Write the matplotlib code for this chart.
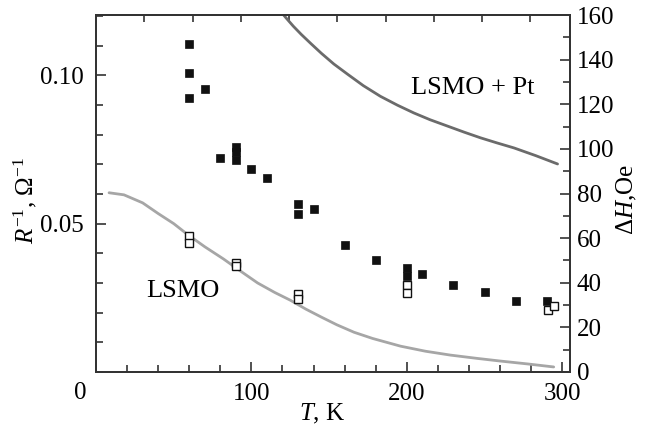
import numpy as np
import matplotlib
matplotlib.use("Agg")
import matplotlib.pyplot as plt
from matplotlib.ticker import MultipleLocator, FixedLocator, NullFormatter, FuncFormatter

plt.rcParams['font.family'] = ['Liberation Serif', 'DejaVu Serif']
plt.rcParams['mathtext.fontset'] = 'custom'
plt.rcParams['mathtext.rm'] = 'Liberation Serif'
plt.rcParams['mathtext.it'] = 'Liberation Serif:italic'

# LSMO + Pt curve (left axis, R^-1)
pt_T = [118, 122, 127, 132, 138, 145, 153, 162, 172, 183, 194, 204.5, 215, 226, 237,
        247.5, 258, 269, 283, 297]
pt_R = [0.1220, 0.1195, 0.1165, 0.1138, 0.1108, 0.1074, 0.1038, 0.1003, 0.0965, 0.0929,
        0.0899, 0.0873, 0.0850, 0.0829, 0.0808, 0.0789, 0.0772, 0.0755, 0.0729, 0.0701]

# LSMO curve (left axis, R^-1)
ls_T = [8.4, 18, 30, 40, 50, 59, 70, 82, 93, 104, 115, 125, 135, 145, 155, 166, 178, 196,
        212, 228, 245, 260, 278, 294.5]
ls_R = [0.0604, 0.0597, 0.0570, 0.0534, 0.0500, 0.0463, 0.0422, 0.0381, 0.0340, 0.0300,
        0.0268, 0.0242, 0.0212, 0.0185, 0.0159, 0.0134, 0.0113, 0.0087, 0.0070, 0.0057,
        0.0046, 0.0037, 0.0027, 0.0017]

# Filled squares (right axis, dH, Oe)
f_T = [60, 60, 60, 70, 80, 90, 90, 90, 100, 110, 130, 130, 140, 160, 180, 200, 200, 210, 230, 250, 270, 290]
f_H = [147, 134, 123, 127, 96, 101, 98.5, 95, 91, 87, 75.3, 70.8, 73, 57, 50, 46.5, 43, 44, 39, 36, 32, 32]

# Open squares (right axis, dH, Oe)
o_T = [60, 60, 90, 90, 130, 130, 200, 200, 291, 294.5]
o_H = [61, 58, 49, 47.5, 35, 32.5, 38.8, 35.6, 28, 29.5]

top_ticks = [31.05 * k for k in range(1, 10)]

W, H = 645, 432
fig = plt.figure(figsize=(W / 100, H / 100), dpi=100)
ax = fig.add_axes([96 / W, 1 - 372 / H, (570 - 96) / W, (372 - 15) / H])
ax2 = ax.twinx()

spine_c = '#333333'
for a in (ax, ax2):
    for s in a.spines.values():
        s.set_color(spine_c)
        s.set_linewidth(1.3)

ax.plot(ls_T, ls_R, color='#a6a6a6', lw=2.0, solid_capstyle='round',
        solid_joinstyle='round', zorder=2)
ax.plot(pt_T, pt_R, color='#6b6b6b', lw=2.0, solid_capstyle='round',
        solid_joinstyle='round', zorder=2)

ax2.plot(f_T, f_H, linestyle='none', marker='s', markersize=6,
         markerfacecolor='#111111', markeredgecolor='#111111', markeredgewidth=0.5, zorder=3)
ax2.plot(o_T, o_H, linestyle='none', marker='s', markersize=6,
         markerfacecolor='white', markeredgecolor='#111111', markeredgewidth=1.0, zorder=3)

ax.set_xlim(0, 305)
ax.set_ylim(0, 0.1203)
ax2.set_ylim(0, 160)

fs = 18
ax.xaxis.set_major_locator(FixedLocator([0, 100, 200, 300]))
ax.xaxis.set_minor_locator(MultipleLocator(20))
ax.xaxis.set_major_formatter(FuncFormatter(lambda v, p: '' if v == 0 else f'{int(v)}'))
ax.yaxis.set_major_locator(FixedLocator([0.05, 0.10]))
ax.yaxis.set_minor_locator(MultipleLocator(0.01))
ax.yaxis.set_major_formatter(FuncFormatter(lambda v, p: f'{v:.2f}'))
ax2.yaxis.set_major_locator(MultipleLocator(20))
ax2.yaxis.set_minor_locator(MultipleLocator(10))

ax.tick_params(axis='x', which='both', direction='in', top=False, colors=spine_c,
               labelcolor='black', labelsize=fs, pad=8)
ax.tick_params(axis='x', which='major', length=7, width=1.2)
ax.tick_params(axis='x', which='minor', length=5, width=1.2)
ax.tick_params(axis='y', which='both', direction='in', right=False, colors=spine_c,
               labelcolor='black', labelsize=fs, pad=9)
ax.tick_params(axis='y', which='major', length=7, width=1.2)
ax.tick_params(axis='y', which='minor', length=5, width=1.2)
ax2.tick_params(axis='y', which='both', direction='in', colors=spine_c,
                labelcolor='black', labelsize=fs, pad=5)
ax2.tick_params(axis='y', which='major', length=7, width=1.2)
ax2.tick_params(axis='y', which='minor', length=5, width=1.2)

sec = ax.secondary_xaxis('top')
sec.xaxis.set_major_locator(FixedLocator(top_ticks))
sec.xaxis.set_major_formatter(NullFormatter())
sec.tick_params(axis='x', direction='in', length=5, width=1.2, colors=spine_c)
sec.spines['top'].set_color(spine_c)
sec.spines['top'].set_linewidth(1.3)

ax.text(32, 0.0252, 'LSMO', fontsize=19, ha='left', va='baseline')
ax.text(203, 0.0936, 'LSMO + Pt', fontsize=19, ha='left', va='baseline')

fig.text(80 / W, 1 - 393 / H, '0', fontsize=fs, ha='center', va='center')
fig.text(322 / W, 1 - 414 / H, r'$T$, K', fontsize=fs, ha='center', va='center')
fig.text(25 / W, 1 - 200 / H, r'$R^{-1}$, $\Omega^{-1}$', fontsize=fs, rotation=90,
         ha='center', va='center')
fig.text(627 / W, 1 - 200 / H, r'$\Delta H$,Oe', fontsize=fs, rotation=90,
         ha='center', va='center')

fig.savefig('out.png', dpi=100)
